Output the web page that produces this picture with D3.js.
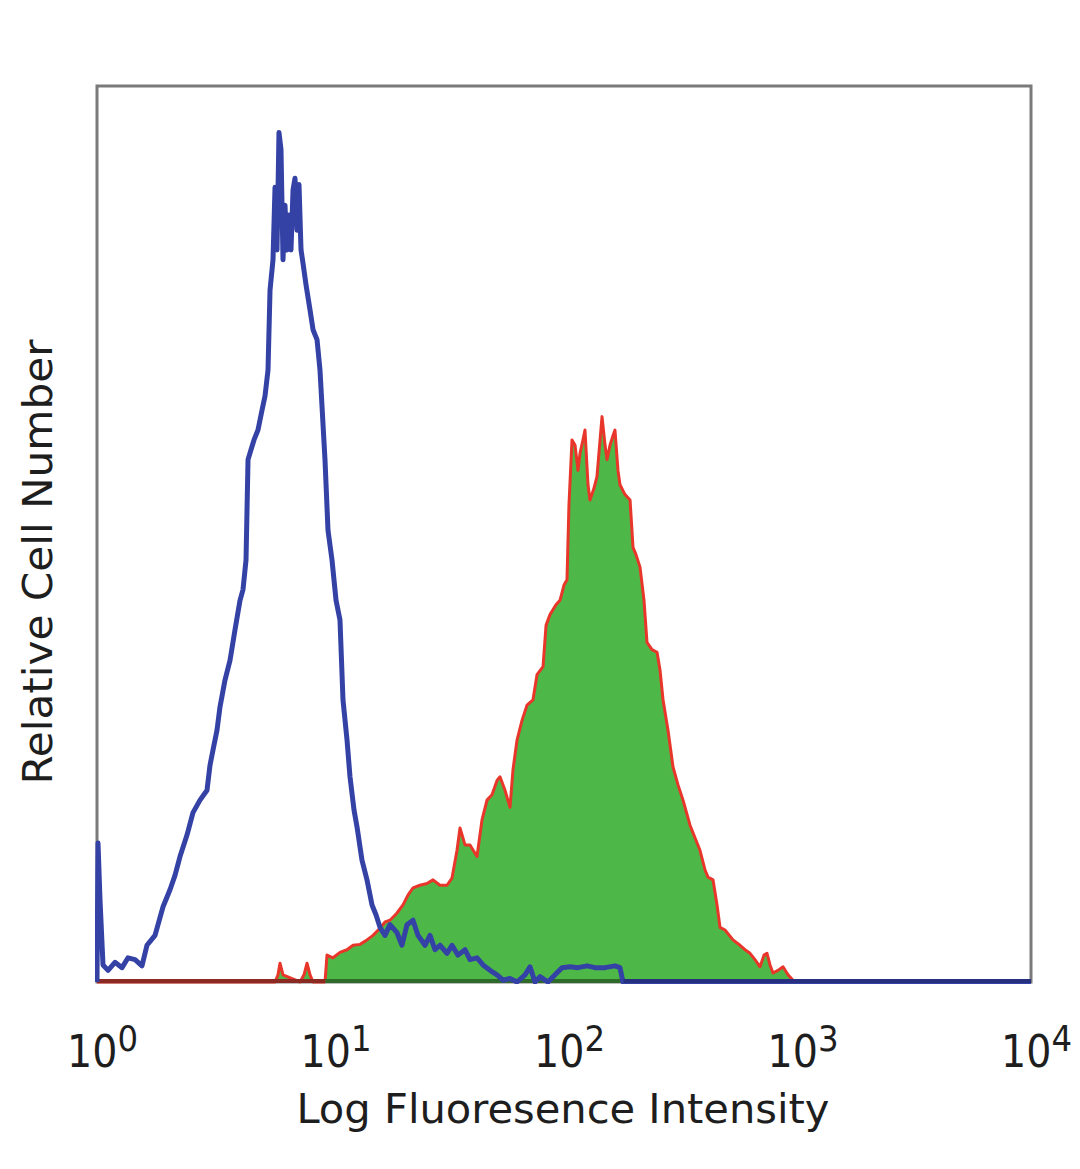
<!DOCTYPE html>
<html><head><meta charset="utf-8">
<script src="https://cdn.jsdelivr.net/npm/d3@7"></script>
<style>body{margin:0;background:#fff}</style>
</head><body><svg id="c" width="1080" height="1169"></svg>
<script>
// Axis ticks (log fluorescence decades)
const tickValues = [1, 10, 100, 1000, 10000];
const tickExponents = ["0", "1", "2", "3", "4"];
const xTitle = "Log Fluoresence Intensity";
const yTitle = "Relative Cell Number";

// Isotype control (blue open histogram): intensity and relative count
const blueIntensity = [1.00,1.010,1.030,1.061,1.115,1.194,1.280,1.358,1.455,1.558,1.637,1.772,1.918,2.054,2.158,2.267,2.429,2.577,2.761,2.959,3.048,3.139,3.265,3.363,3.533,3.712,3.899,4.097,4.220,4.347,4.434,4.566,4.703,4.892,5.089,5.243,5.400,5.508,5.672,5.786,5.901,6.017,6.138,6.260,6.384,6.511,6.642,6.773,6.911,7.047,7.186,7.330,7.478,7.627,7.856,8.172,8.418,8.755,9.016,9.471,9.757,10.15,10.56,10.98,11.31,11.77,12.12,12.61,12.99,13.64,14.33,15.06,15.66,16.29,17.12,17.98,19.27,20.24,21.27,22.56,23.70,25.39,26.68,28.03,29.44,31.55,33.14,35.16,37.67,39.57,42.41,45.00,48.22,51.67,54.81,58.72,62.92,68.08,71.52,75.13,78.93,85.42,91.51,98.04,106.1,114.8,125.5,135.8,149.9,165.3,173.7,178.9,10000];
const blueCount = [0,15.5,9.2,1.9,1.3,2.2,1.6,2.7,2.5,1.8,4.1,5.2,8.4,10.3,11.9,14.0,16.4,18.9,20.3,21.4,24.2,25.9,28.1,30.7,33.7,35.9,39.3,42.6,43.8,47.1,58.3,59.4,60.5,61.6,63.8,65.4,68.3,77.2,80.6,88.7,81.7,94.8,92.9,80.6,86.7,81.7,85.6,81.7,88.4,89.7,83.9,89.0,81.7,80.2,77.8,75.0,72.8,71.7,68.3,58.3,50.4,47.1,42.6,40.4,31.5,27.0,22.9,19.2,17.3,13.6,11.4,8.6,7.5,6.1,5.2,6.4,5.5,4.1,6.4,6.9,5.2,4.1,5.2,3.6,4.1,3.2,4.1,3.0,3.6,2.5,2.7,1.9,1.3,0.8,0.2,0.4,0,0.8,1.7,0,0.6,0,0.8,1.6,1.7,1.6,1.8,1.6,1.6,1.8,1.6,0,0];

// Stained sample (green filled histogram): intensity and relative count
const greenIntensity = [1.00,5.786,5.959,6.077,6.260,7.405,7.700,7.934,8.172,8.418,9.471,9.661,10.25,10.98,11.77,12.49,13.38,14.33,15.21,16.29,17.12,17.98,19.27,20.44,21.47,22.56,24.17,25.90,27.48,29.44,31.55,33.14,34.82,35.86,37.67,39.57,42.41,44.56,46.80,49.17,51.67,53.20,55.89,58.72,60.48,62.92,66.10,69.44,73.66,76.64,81.33,83.77,87.10,92.40,96.12,100.0,103.0,105.0,108.2,111.5,114.8,117.1,120.6,123.0,126.7,129.2,134.4,138.4,142.7,145.5,149.9,152.8,157.4,162.2,165.3,170.3,173.7,182.5,191.8,197.5,203.4,211.6,220.1,226.7,238.2,250.3,257.8,265.5,278.9,293.0,307.8,323.4,346.5,363.9,382.3,401.8,413.8,434.7,452.2,465.8,489.3,529.4,567.2,596.0,626.1,657.7,690.9,718.7,740.3,762.5,785.5,825.2,866.9,910.6,956.6,985.3,10000];
const greenCount = [0,0,0.8,2.1,0.8,0,0.8,2.1,0.8,0,0,3.0,2.7,3.3,3.6,4.1,4.2,4.7,5.2,6.0,6.7,6.9,7.7,8.6,9.7,10.5,10.8,11.0,11.4,10.8,10.8,11.6,14.7,17.2,15.3,15.3,14.0,18.1,20.3,20.9,22.5,22.9,21.4,19.5,23.7,27.0,29.2,30.9,31.5,34.3,35.2,39.8,41.0,42.1,42.6,44.3,44.9,53.2,60.5,59.9,57.1,59.0,60.5,61.6,55.5,53.8,55.1,56.4,60.5,63.1,59.9,58.3,59.9,61.0,61.6,57.1,55.5,54.4,53.8,48.5,47.7,46.3,42.6,37.9,37.1,36.8,34.8,31.5,28.1,24.0,22.0,20.3,17.5,16.1,14.7,12.5,11.7,11.4,8.6,6.1,5.8,4.7,4.1,3.6,3.2,2.5,1.7,3.0,3.2,1.9,1.0,1.3,1.7,0.8,0.2,0,0];

const svg = d3.select("#c");
const x = d3.scaleLog().domain([1, 10000]).range([97, 1031]);
const y = d3.scaleLinear().domain([0, 100]).range([982, 86]);

const blue = blueIntensity.map((v, i) => [v, blueCount[i]]);
const green = greenIntensity.map((v, i) => [v, greenCount[i]]);

// frame
svg.append("rect").attr("x", 97).attr("y", 86).attr("width", 934).attr("height", 896)
  .attr("fill", "none").attr("stroke", "#7a7a7a").attr("stroke-width", 3);

svg.append("clipPath").attr("id", "plotclip")
  .append("rect").attr("x", 95).attr("y", 84).attr("width", 938).attr("height", 900);

const g = svg.append("g").attr("clip-path", "url(#plotclip)");

g.append("path").datum(green)
  .attr("d", d3.area().x(d => x(d[0])).y0(y(0)).y1(d => y(d[1])))
  .attr("fill", "#4db848").attr("stroke", "none");
g.append("path").datum(green)
  .attr("d", d3.line().x(d => x(d[0])).y(d => y(d[1])))
  .attr("fill", "none").attr("stroke", "#e8362b").attr("stroke-width", 3)
  .attr("stroke-linejoin", "round");
// dark baseline under the histograms
g.append("line").attr("x1", x(1)).attr("x2", x(9.5)).attr("y1", y(0) - 1).attr("y2", y(0) - 1)
  .attr("stroke", "#8a2a22").attr("stroke-width", 4);
g.append("line").attr("x1", x(9.5)).attr("x2", x(180)).attr("y1", y(0) - 1).attr("y2", y(0) - 1)
  .attr("stroke", "#2e6b2a").attr("stroke-width", 4);

g.append("path").datum(blue)
  .attr("d", d3.line().x(d => x(d[0])).y(d => y(d[1])))
  .attr("fill", "none").attr("stroke", "#3442a6").attr("stroke-width", 5)
  .attr("stroke-linejoin", "round");
g.append("line").attr("x1", x(180)).attr("x2", x(10000)).attr("y1", y(0) - 1).attr("y2", y(0) - 1)
  .attr("stroke", "#26307e").attr("stroke-width", 4);

const font = "'DejaVu Sans Condensed', 'DejaVu Sans', sans-serif";

// x axis ticks
const axis = d3.axisBottom(x).tickValues(tickValues).tickSize(0).tickFormat("");
const ax = svg.append("g").attr("transform", "translate(0,982)").call(axis);
ax.select(".domain").remove();
ax.selectAll(".tick").each(function(d, i) {
  const t = d3.select(this).append("text")
    .attr("x", 5).attr("y", 85).attr("text-anchor", "middle")
    .attr("fill", "#1e1e1e").style("font-family", font)
    .style("font-size", "44px");
  t.append("tspan").text("10");
  t.append("tspan").attr("dy", -16).style("font-size", "36px").text(tickExponents[i]);
});

svg.append("text").attr("x", 563).attr("y", 1123).attr("text-anchor", "middle")
  .attr("fill", "#1e1e1e").style("font-family", font)
  .style("font-size", "40px").attr("textLength", 533).attr("lengthAdjust", "spacingAndGlyphs")
  .text(xTitle);

svg.append("text").attr("transform", "translate(52,562) rotate(-90)").attr("text-anchor", "middle")
  .attr("fill", "#1e1e1e").style("font-family", font)
  .style("font-size", "40px").attr("textLength", 445).attr("lengthAdjust", "spacingAndGlyphs")
  .text(yTitle);
</script>
</body></html>
